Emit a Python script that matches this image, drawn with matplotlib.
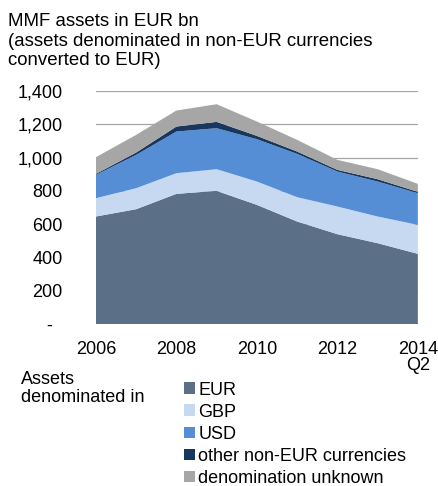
import matplotlib
matplotlib.use("Agg")
import matplotlib.pyplot as plt
from matplotlib.patches import Patch
from matplotlib.ticker import FuncFormatter

plt.rcParams['font.family'] = ['Liberation Sans', 'DejaVu Sans']
plt.rcParams['font.size'] = 13

# MMF assets in EUR bn, by denomination
periods = ['2006', '2007', '2008', '2009', '2010', '2011', '2012', '2013', '2014\nQ2']
eur = [646, 690, 782, 800, 716, 616, 540, 486, 422]
gbp = [110, 126, 124, 130, 140, 146, 166, 160, 174]
usd = [140, 200, 250, 246, 254, 260, 210, 210, 190]
other = [6, 14, 30, 38, 20, 14, 10, 14, 8]
unknown = [100, 106, 96, 106, 86, 70, 60, 60, 48]

series_labels = ['EUR', 'GBP', 'USD', 'other non-EUR currencies', 'denomination unknown']
colors = ['#5b7086', '#c6d9f1', '#558ed5', '#17375e', '#a6a6a6']

fig = plt.figure(figsize=(4.38, 4.86), dpi=100)
ax = fig.add_axes([0.219, 0.333, 0.735, 0.48])

x = list(range(len(periods)))
ax.stackplot(x, eur, gbp, usd, other, unknown, colors=colors, zorder=2)

ax.set_xlim(0, len(periods) - 1)
ax.set_ylim(0, 1400)
ax.set_yticks(range(0, 1401, 200))
ax.yaxis.set_major_formatter(FuncFormatter(lambda v, p: '-  ' if v == 0 else f'{int(v):,}'))
ax.set_xticks(x[::2])
ax.set_xticklabels(periods[::2], linespacing=0.95)
ax.tick_params(axis='y', length=0, pad=24)
ax.tick_params(axis='x', length=0, pad=12)
ax.grid(axis='y', color='#a6a6a6', linewidth=0.9, zorder=1)
ax.set_axisbelow(True)
for s in ax.spines.values():
    s.set_visible(False)

fig.text(0.018, 0.973, 'MMF assets in EUR bn\n(assets denominated in non-EUR currencies\nconverted to EUR)',
         ha='left', va='top', linespacing=1.2, fontsize=13.4)

fig.text(0.048, 0.237, 'Assets\ndenominated in', ha='left', va='top', linespacing=1.1)
handles = [Patch(facecolor=c, edgecolor='none') for c in colors]
fig.legend(handles, series_labels, loc='upper left', bbox_to_anchor=(0.42, 0.215),
           frameon=False, handlelength=0.6, handleheight=0.6, handletextpad=0.2,
           labelspacing=0.28, borderaxespad=0, borderpad=0)

fig.savefig('out.png', dpi=100)
